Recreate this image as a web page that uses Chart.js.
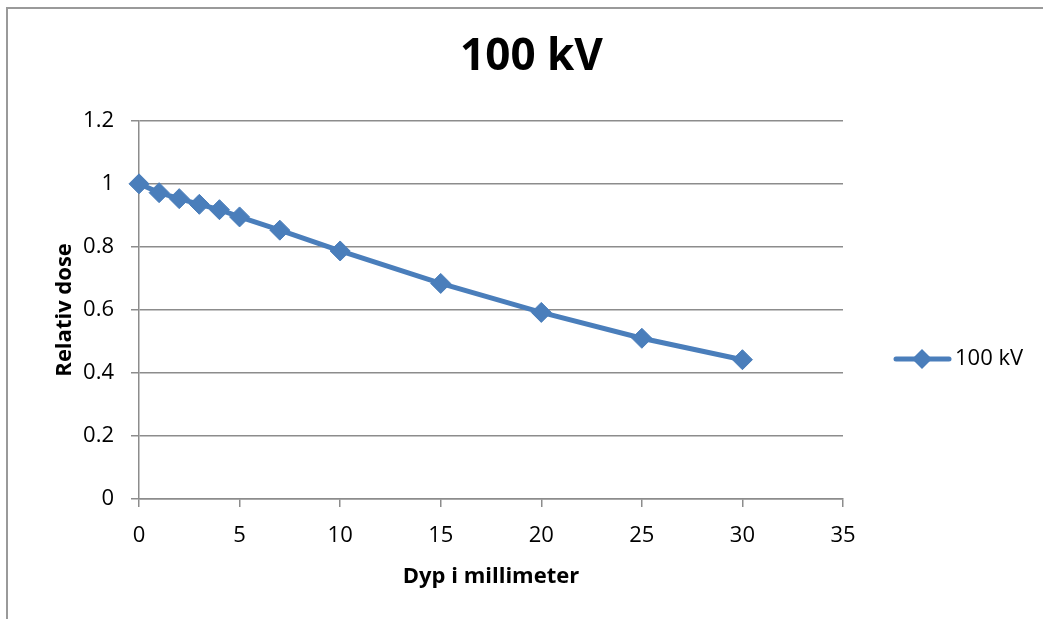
<!DOCTYPE html>
<html>
<head>
<meta charset="utf-8">
<script src="https://cdn.jsdelivr.net/npm/chart.js@4/dist/chart.umd.min.js"></script>
<style>
    html, body { margin: 0; padding: 0; background: #fff; }
    #wrap { width: 1043px; height: 619px; position: relative; }
</style>
</head>
<body>
<div id="wrap"><canvas id="doseChart" width="1043" height="619"></canvas></div>
<script>
const depthMm = [0, 1, 2, 3, 4, 5, 7, 10, 15, 20, 25, 30];
const relDose = [1.0, 0.972, 0.953, 0.935, 0.918, 0.895, 0.853, 0.787, 0.684, 0.592, 0.510, 0.442];
const yTickLabels = ['0', '0.2', '0.4', '0.6', '0.8', '1', '1.2'];
const xTickLabels = ['0', '5', '10', '15', '20', '25', '30', '35'];
const seriesName = '100 kV';

const FONT = "'Open Sans', 'Liberation Sans', sans-serif";
const BLUE = '#4a7ebb';
const GRID = '#8c8c8c';

// frame around the whole chart (only left and top edges are visible)
const framePlugin = {
    id: 'frame',
    beforeDraw(chart) {
        const ctx = chart.ctx;
        ctx.save();
        ctx.fillStyle = '#fff';
        ctx.fillRect(0, 0, chart.width, chart.height);
        ctx.strokeStyle = '#9a9a9a';
        ctx.lineWidth = 2;
        ctx.beginPath();
        ctx.moveTo(7, chart.height);
        ctx.lineTo(7, 8);
        ctx.lineTo(chart.width, 8);
        ctx.stroke();
        ctx.restore();
    }
};

// legend drawn at the right, like the spreadsheet one
const legendPlugin = {
    id: 'sideLegend',
    afterDraw(chart) {
        const ctx = chart.ctx;
        const y = 359;
        ctx.save();
        ctx.strokeStyle = BLUE;
        ctx.lineWidth = 5;
        ctx.lineCap = 'round';
        ctx.beginPath();
        ctx.moveTo(896, y);
        ctx.lineTo(949, y);
        ctx.stroke();
        ctx.fillStyle = BLUE;
        ctx.beginPath();
        ctx.moveTo(922, y - 10);
        ctx.lineTo(932, y);
        ctx.lineTo(922, y + 10);
        ctx.lineTo(912, y);
        ctx.closePath();
        ctx.fill();
        ctx.fillStyle = '#000';
        ctx.font = "22px " + FONT;
        ctx.textBaseline = 'middle';
        ctx.textAlign = 'left';
        ctx.fillText(seriesName, 955, y);
        ctx.restore();
    }
};

const ctx = document.getElementById('doseChart').getContext('2d');

new Chart(ctx, {
    type: 'scatter',
    data: {
        datasets: [{
            label: seriesName,
            data: depthMm.map((x, i) => ({ x: x, y: relDose[i] })),
            showLine: true,
            borderColor: BLUE,
            backgroundColor: BLUE,
            borderWidth: 5,
            tension: 0,
            pointStyle: 'rectRot',
            pointRadius: 10,
            pointHoverRadius: 10,
            pointBackgroundColor: BLUE,
            pointBorderColor: BLUE,
            pointBorderWidth: 1,
            clip: false
        }]
    },
    options: {
        responsive: false,
        animation: false,
        events: [],
        layout: { padding: { left: 20, right: 0, top: 0, bottom: 0 } },
        plugins: {
            legend: { display: false },
            tooltip: { enabled: false },
            title: {
                display: true,
                text: '100 kV',
                color: '#000',
                font: { family: FONT, size: 44, weight: 'bold', lineHeight: 1.2 },
                padding: { top: 31, bottom: 37 }
            }
        },
        scales: {
            x: {
                type: 'linear',
                min: 0,
                max: 35,
                afterFit: s => { s.height = 120; },
                ticks: {
                    stepSize: 5,
                    color: '#000',
                    padding: 16,
                    font: { family: FONT, size: 22 },
                    callback: (v, i) => xTickLabels[i]
                },
                grid: { display: true, drawOnChartArea: false, drawTicks: true, tickLength: 8, color: GRID, lineWidth: 1.5 },
                border: { display: true, color: GRID, width: 1.5 },
                title: {
                    display: true,
                    text: 'Dyp i millimeter',
                    color: '#000',
                    font: { family: FONT, size: 22, weight: 'bold', lineHeight: 1.2 },
                    padding: { top: 0, bottom: 29 }
                }
            },
            y: {
                type: 'linear',
                min: 0,
                max: 1.2,
                afterFit: s => { s.width = 119; },
                ticks: {
                    stepSize: 0.2,
                    color: '#000',
                    padding: 17,
                    font: { family: FONT, size: 22 },
                    callback: (v, i) => yTickLabels[i]
                },
                grid: { color: GRID, lineWidth: 1.5, tickLength: 8, drawTicks: true },
                border: { display: true, color: GRID, width: 1.5 },
                title: {
                    display: true,
                    text: 'Relativ dose',
                    color: '#000',
                    font: { family: FONT, size: 22, weight: 'bold', lineHeight: 1.2 },
                    padding: { top: 32, bottom: 0 }
                }
            },
            side: {
                type: 'linear',
                position: 'right',
                min: 0,
                max: 1,
                afterFit: s => { s.width = 200; },
                ticks: { display: false },
                grid: { display: false },
                border: { display: false }
            }
        }
    },
    plugins: [framePlugin, legendPlugin]
});
</script>
</body>
</html>
